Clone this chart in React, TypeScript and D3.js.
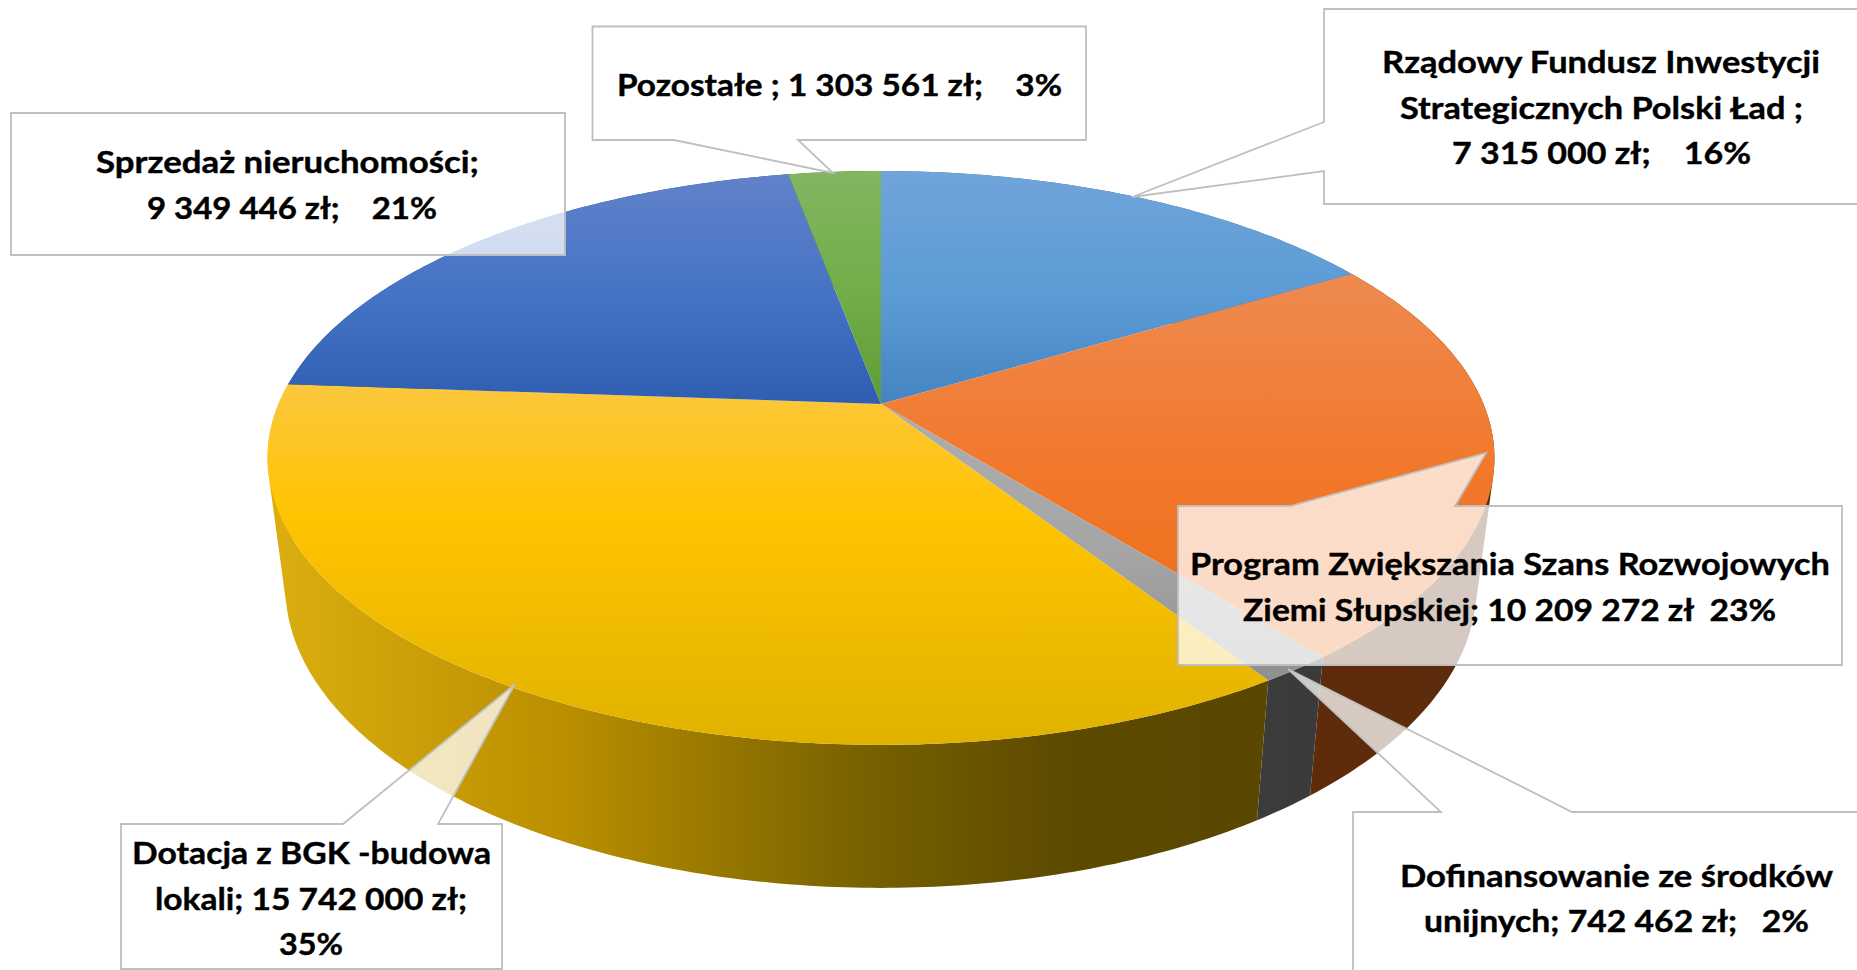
import React from "react";
import * as d3 from "d3";

const W = 1857;
const H = 970;

const categories = [
  "Rządowy Fundusz Inwestycji Strategicznych Polski Ład",
  "Program Zwiększania Szans Rozwojowych Ziemi Słupskiej",
  "Dofinansowanie ze środków unijnych",
  "Dotacja z BGK -budowa lokali",
  "Sprzedaż nieruchomości",
  "Pozostałe",
];
const values = [7315000, 10209272, 742462, 15742000, 9349446, 1303561];

// top-face gradient: [top, middle, bottom], middle offset
const topLight = ["#70a4da", "#ee8a50", "#adadad", "#fcc73e", "#6182ca", "#82b660"];
const topBase = ["#5b9bd5", "#f27728", "#a5a5a5", "#ffc400", "#4472c4", "#70ad47"];
const topDark = ["#4384c2", "#e96f1e", "#8f8f8f", "#e0b200", "#2f5eb1", "#5f9c36"];
const wallStops = [
  ["#3f6f9c", "#3f6f9c"],
  ["#5e2c0b", "#5c2b0b"],
  ["#3c3c3c", "#3a3a3a"],
  ["#dcae10", "#5a4700"],
  ["#2f5597", "#2f5597"],
  ["#4e7a32", "#4e7a32"],
];

const labels = [
  {
    shape: [[592.5, 26.5], [1086, 26.5], [1086, 140], [798, 140], [833, 173], [674, 140], [592.5, 140]],
    lines: [{ t: "Pozostałe ; 1 303 561 zł;    3%", x: 617, y: 96, w: 445 }],
  },
  {
    shape: [[11, 113], [565, 113], [565, 255], [11, 255]],
    lines: [
      { t: "Sprzedaż nieruchomości;", x: 96, y: 173, w: 383 },
      { t: "9 349 446 zł;    21%", x: 147, y: 219, w: 290 },
    ],
  },
  {
    shape: [[1324, 9], [1870, 9], [1870, 204], [1324, 204], [1324, 171], [1132, 197], [1324, 122]],
    lines: [
      { t: "Rządowy Fundusz Inwestycji", x: 1382, y: 73, w: 438 },
      { t: "Strategicznych Polski Ład ;", x: 1400, y: 119, w: 403 },
      { t: "7 315 000 zł;    16%", x: 1452, y: 164, w: 299 },
    ],
  },
  {
    shape: [[1178, 506], [1290, 506], [1486, 453], [1455, 506], [1842, 506], [1842, 665], [1178, 665]],
    lines: [
      { t: "Program Zwiększania Szans Rozwojowych", x: 1190, y: 575, w: 640 },
      { t: "Ziemi Słupskiej; 10 209 272 zł  23%", x: 1243, y: 621, w: 533 },
    ],
  },
  {
    shape: [[1353, 812], [1441, 812], [1288, 669], [1572, 812], [1870, 812], [1870, 985], [1353, 985]],
    lines: [
      { t: "Dofinansowanie ze środków", x: 1400, y: 887, w: 433 },
      { t: "unijnych; 742 462 zł;   2%", x: 1424, y: 932, w: 385 },
    ],
  },
  {
    shape: [[121, 824], [343, 824], [515, 684], [438, 824], [502, 824], [502, 969], [121, 969]],
    lines: [
      { t: "Dotacja z BGK -budowa", x: 132, y: 864, w: 359 },
      { t: "lokali; 15 742 000 zł;", x: 155, y: 910, w: 312 },
      { t: "35%", x: 279, y: 955, w: 64 },
    ],
  },
];

// Perspective projection of the pie's circular top onto the screen
const cx = 881;
const apexY = 404;
const persp = 0.188;
const rx = 602.5;
const ry = 276.8;
type P = [number, number];
const project = (angle: number): P => {
  const s = 1 / (1 + persp * Math.cos(angle));
  return [cx + rx * Math.sin(angle) * s, apexY - ry * Math.cos(angle) * s];
};
const lower = ([x, y]: P): P => [
  cx + (x - cx) * 0.971,
  y + 143 + (y - 745) * 0.05,
];
const arcPoints = (a0: number, a1: number) => {
  const n = Math.max(2, Math.ceil((a1 - a0) * 80));
  return d3.range(n + 1).map((i) => project(a0 + ((a1 - a0) * i) / n));
};
const line = d3.line();

// The wall folds over at the silhouette, so it is built from consistently wound strips.
const wallPath = (top: P[]) =>
  d3
    .pairs(top)
    .map(([a, b]) => {
      const quad: P[] = [a, b, lower(b), lower(a)];
      const wound = d3.polygonArea(quad) < 0 ? quad.slice().reverse() : quad;
      return line(wound) + "Z";
    })
    .join("");

export default function App() {
  const arcs = d3.pie<number>().sort(null)(values);
  return (
    <svg
      width={W}
      height={H}
      viewBox={`0 0 ${W} ${H}`}
      style={{ position: "absolute", left: 0, top: 0, background: "#fff" }}
    >
      <defs>
        {arcs.map((_, i) => (
          <linearGradient key={i} id={`top${i}`} x1="0" y1="0" x2="0" y2="1">
            <stop offset="0" stopColor={topLight[i]} />
            <stop offset={i === 3 ? 0.37 : 0.55} stopColor={topBase[i]} />
            <stop offset="1" stopColor={topDark[i]} />
          </linearGradient>
        ))}
        {arcs.map((_, i) => (
          <linearGradient key={i} id={`wall${i}`} x1="0" y1="0" x2="1" y2="0">
            <stop offset="0" stopColor={wallStops[i][0]} />
            {i === 3 && <stop offset="0.3" stopColor="#b98f00" />}
            {i === 3 && <stop offset="0.6" stopColor="#776000" />}
            {i === 3 && <stop offset="0.8" stopColor="#5c4a00" />}
            <stop offset="1" stopColor={wallStops[i][1]} />
          </linearGradient>
        ))}
      </defs>

      {arcs.map((a, i) => (
        <path key={i} d={wallPath(arcPoints(a.startAngle, a.endAngle))} fill={`url(#wall${i})`} />
      ))}
      {arcs.map((a, i) => {
        const pts = arcPoints(a.startAngle, a.endAngle);
        return (
          <path key={i} d={line([[cx, apexY], ...pts]) + "Z"} fill={`url(#top${i})`}>
            <title>{categories[i]}</title>
          </path>
        );
      })}

      {labels.map((l, i) => (
        <g key={i}>
          <path
            d={line(l.shape as P[]) + "Z"}
            fill="#fff"
            fillOpacity={0.75}
            stroke="#bfbfbf"
            strokeWidth={1.8}
          />
          {l.lines.map((ln, j) => (
            <text
              key={j}
              x={ln.x}
              y={ln.y}
              textLength={ln.w}
              lengthAdjust="spacingAndGlyphs"
              fontFamily="Lato, 'Open Sans', sans-serif"
              fontWeight={700}
              fontSize={31}
              fill="#000"
              stroke="#000"
              strokeWidth={0.4}
              style={{ whiteSpace: "pre" }}
            >
              {ln.t}
            </text>
          ))}
        </g>
      ))}
    </svg>
  );
}
